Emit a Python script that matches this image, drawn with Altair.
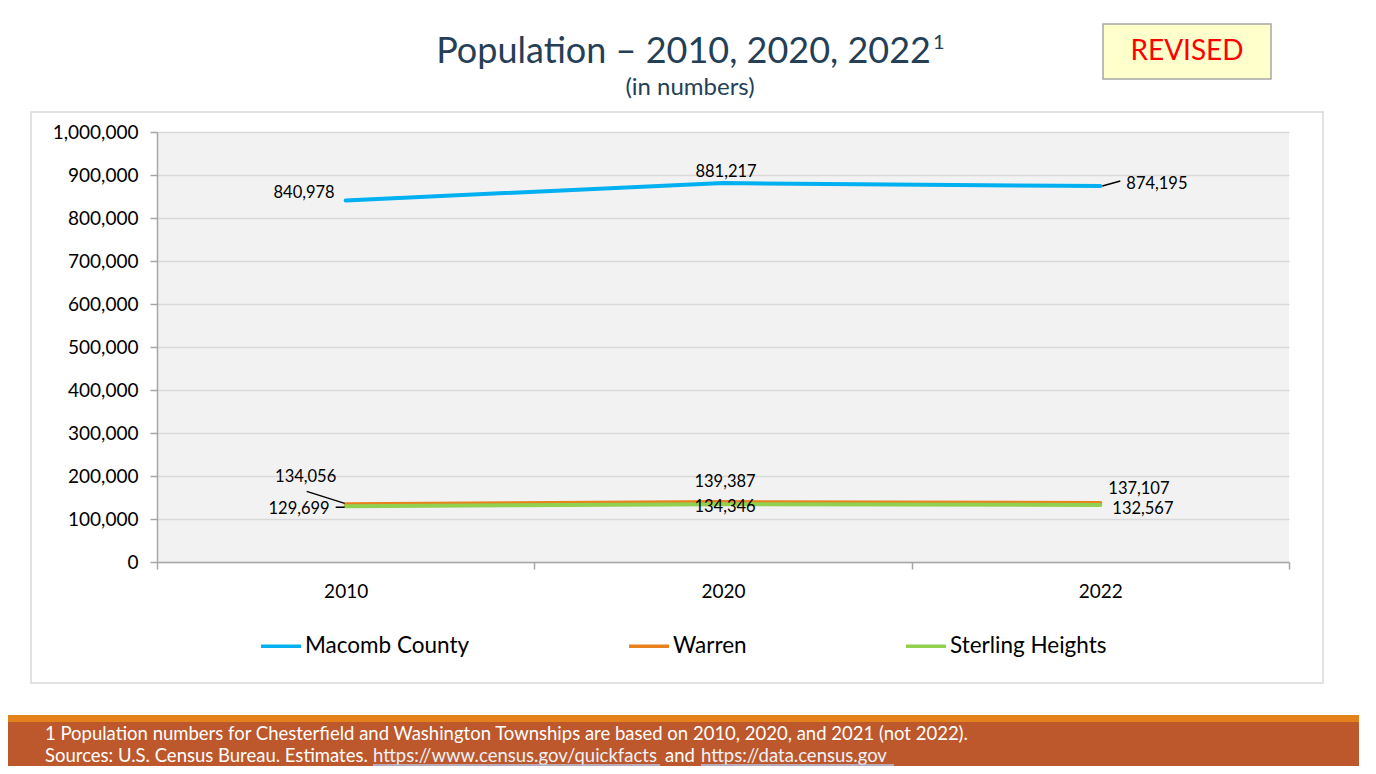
import altair as alt
import pandas as pd

years = ["2010", "2020", "2022"]
series_names = ["Macomb County", "Warren", "Sterling Heights"]
macomb = [840978, 881217, 874195]
warren = [134056, 139387, 137107]
sterling = [129699, 134346, 132567]
colors = ["#00b0f0", "#e8821e", "#92d050"]
y_ticks = list(range(0, 1000001, 100000))

rows = []
for name, vals in zip(series_names, [macomb, warren, sterling]):
    for yr, v in zip(years, vals):
        rows.append({"series": name, "year": yr, "value": v})
df = pd.DataFrame(rows)
one = pd.DataFrame({"_": [0]})

FONT = "Lato"
W, H = 1132, 430

x_enc = alt.X(
    "year:N",
    scale=alt.Scale(type="band", domain=years, paddingInner=0, paddingOuter=0),
    axis=alt.Axis(
        title=None, labelAngle=0, labelFont=FONT, labelFontSize=19, labelColor="#000",
        tickBand="extent", tickSize=7, tickColor="#a6a6a6", tickWidth=1.5,
        domainColor="#a6a6a6", domainWidth=1.5, labelPadding=13, grid=False,
    ),
)
y_enc = alt.Y(
    "value:Q",
    scale=alt.Scale(domain=[0, 1000000], nice=False),
    axis=alt.Axis(
        title=None, values=y_ticks, format=",d", labelFont=FONT, labelFontSize=19,
        labelColor="#000", tickSize=7, tickColor="#a6a6a6", tickWidth=1.5,
        labelPadding=12, domainColor="#a6a6a6", domainWidth=1.5,
        gridColor="#d9d9d9", gridWidth=1.5,
    ),
)
color_enc = alt.Color(
    "series:N",
    scale=alt.Scale(domain=series_names, range=colors),
    legend=alt.Legend(
        orient="none", legendX=102, legendY=492, direction="horizontal", columns=3,
        title=None, symbolType="stroke", symbolSize=1600, symbolStrokeWidth=3.5,
        labelFont=FONT, labelFontSize=22.5, labelColor="#000", columnPadding=152,
        labelOffset=2, labelLimit=400,
    ),
)

lines = alt.Chart(df).mark_line(strokeWidth=4, strokeCap="round").encode(
    x=x_enc, y=y_enc, color=color_enc, detail="series:N"
)


def label(series, year, dx, dy, align):
    return (
        alt.Chart(df)
        .transform_filter(f"datum.series == '{series}' && datum.year == '{year}'")
        .mark_text(dx=dx, dy=dy, align=align, baseline="middle", font=FONT,
                   fontSize=16.5, color="#000")
        .encode(x=x_enc, y=y_enc, text=alt.Text("value:Q", format=","))
    )


def leader(series, year, ox1, oy1, ox2, oy2):
    return (
        alt.Chart(df)
        .transform_filter(f"datum.series == '{series}' && datum.year == '{year}'")
        .mark_rule(color="#000", strokeWidth=1.5, xOffset=ox1, yOffset=oy1,
                   x2Offset=ox2, y2Offset=oy2)
        .encode(
            x=alt.X("year:N", bandPosition=0.5),
            x2=alt.X2("year", bandPosition=0.5),
            y="value:Q",
            y2="value",
        )
    )


labels = [
    label("Macomb County", "2010", -11, -7, "right"),
    label("Macomb County", "2020", 3, -11, "center"),
    label("Macomb County", "2022", 26, -2, "left"),
    label("Warren", "2010", -40, -27, "center"),
    label("Sterling Heights", "2010", -16, 3, "right"),
    label("Warren", "2020", 2, -20, "center"),
    label("Sterling Heights", "2020", 2, 3, "center"),
    label("Warren", "2022", 8, -14, "left"),
    label("Sterling Heights", "2022", 12, 4, "left"),
]
leaders = [
    leader("Macomb County", "2022", 2, 0, 20, -5),
    leader("Warren", "2010", -39, -13, -1, -1),
    leader("Sterling Heights", "2010", -10, 1, -1, 1),
]


def rect(x1, y1, x2, y2, fill, stroke="transparent", sw=0):
    return alt.Chart(one).mark_rect(fill=fill, stroke=stroke, strokeWidth=sw).encode(
        x=alt.value(x1), x2=alt.value(x2), y=alt.value(y1), y2=alt.value(y2)
    )


def txt(x, y, s, size, color="#000", align="center", **kw):
    return alt.Chart(one).mark_text(
        align=align, baseline="middle", font=FONT, fontSize=size, color=color, **kw
    ).encode(x=alt.value(x), y=alt.value(y), text=alt.value(s))


def hline(x1, x2, y, color, sw):
    return alt.Chart(one).mark_rule(color=color, strokeWidth=sw).encode(
        x=alt.value(x1), x2=alt.value(x2), y=alt.value(y)
    )


# page coords -> chart coords: cx = px - 157, cy = py - 132
FS = 18.5
decor = [
    rect(-126, -20, 1166, 551, "transparent", "#d9d9d9", 1.5),
    rect(946, -108, 1114, -53, "#ffffcc", "#a6a6a6", 1.5),
    txt(1030, -80, "REVISED", 28, "#ff0000"),
    txt(774, -80, "Population \u2013 2010, 2020, 2022", 36, "#243f56", "right"),
    txt(776, -89, "1", 20, "#243f56", "left"),
    txt(533, -44, "(in numbers)", 24, "#243f56"),
    rect(-160, 583, 1230, 590, "#e3811b"),
    rect(-160, 590, 1230, 660, "#bd582c"),
    txt(-112, 602, "1 Population numbers for Chesterfield and Washington Townships are based on 2010, 2020, and 2021 (not 2022).", FS, "#ffffff", "left"),
    txt(-112, 624, "Sources: U.S. Census Bureau. Estimates.", FS, "#ffffff", "left"),
    txt(216, 624, "https://www.census.gov/quickfacts", FS, "#eef2f8", "left"),
    txt(508, 624, "and", FS, "#ffffff", "left"),
    txt(544, 624, "https://data.census.gov", FS, "#eef2f8", "left"),
    hline(216, 503, 633, "#b4c6e7", 1.5),
    hline(544, 737, 633, "#b4c6e7", 1.5),
]

chart = (
    alt.layer(*decor, lines, *leaders, *labels)
    .properties(
        width=W, height=H,
        padding={"left": 149, "top": 124, "right": 70, "bottom": 204},
        autosize=alt.AutoSizeParams(type="none"),
    )
    .configure(background="#ffffff")
    .configure_view(stroke=None, fill="#f2f2f2")
)

chart.save("out.html", embed_options={"renderer": "svg", "actions": False})
